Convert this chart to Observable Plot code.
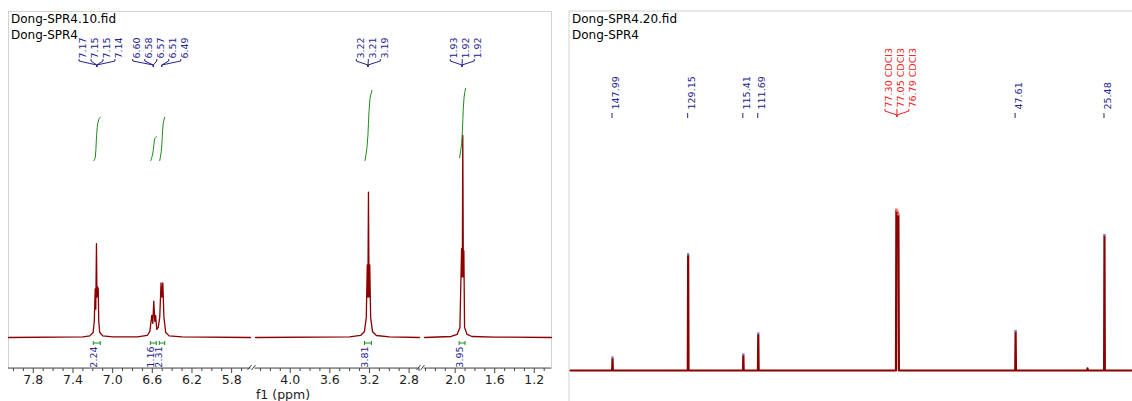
<!DOCTYPE html>
<html><head><meta charset="utf-8">
<script src="https://cdn.jsdelivr.net/npm/d3@7"></script>
<script src="https://cdn.jsdelivr.net/npm/@observablehq/plot@0.6"></script>
<style>
html,body{margin:0;padding:0;background:#fff;overflow:hidden;}
#wrap{position:relative;width:1132px;height:401px;overflow:hidden;font-family:"DejaVu Sans",Verdana,sans-serif;}
#left,#right{position:absolute;top:0;}
#left{left:0;} #right{left:560px;}
.title{position:absolute;font-size:12px;line-height:16px;color:#000;white-space:nowrap;}
</style></head>
<body><div id="wrap">
<div id="left"></div><div id="right"></div>
<div class="title" style="left:11px;top:11px">Dong-SPR4.10.fid<br>Dong-SPR4</div>
<div class="title" style="left:572px;top:11px">Dong-SPR4.20.fid<br>Dong-SPR4</div>
</div>
<script>
// ---------------- 1H spectrum (left) ----------------
// axis segments (broken axis), ppm
const h1SegStart = [8.05, 4.35, 2.31];
const h1SegEnd   = [5.61, 2.695, 1.026];
const h1Ticks = [7.8, 7.4, 7.0, 6.6, 6.2, 5.8, 4.0, 3.6, 3.2, 2.8, 2.0, 1.6, 1.2];
// trace points (ppm, relative intensity)
const h1Ppm = [8.05, 7.30, 7.23, 7.197, 7.185, 7.176, 7.170, 7.163, 7.158, 7.152, 7.145, 7.140, 7.130, 7.10, 7.0,
  6.75, 6.65, 6.625, 6.605, 6.595, 6.585, 6.575, 6.567, 6.555, 6.54, 6.525, 6.512, 6.503, 6.494, 6.483, 6.465, 6.43, 6.3, 5.61,
  4.35, 3.40, 3.29, 3.25, 3.232, 3.222, 3.216, 3.210, 3.204, 3.197, 3.188, 3.17, 3.13, 3.0, 2.695,
  2.31, 2.04, 1.98, 1.952, 1.935, 1.928, 1.923, 1.917, 1.912, 1.905, 1.88, 1.83, 1.6, 1.026];
const h1Int = [0, 0.3, 0.8, 2.5, 8, 24, 14, 46.5, 20, 25, 24, 8, 2.5, 0.8, 0.3,
  0.3, 1, 3, 11, 7, 18, 8, 11, 4, 5, 10, 27, 20, 27, 10, 2.5, 0.8, 0.3, 0,
  0, 0.3, 1, 3, 10, 36, 20, 72, 20, 36, 10, 3, 1, 0.3, 0,
  0, 0.5, 1.5, 5, 44, 30, 100, 30, 43, 5, 1.5, 0.5, 0.2, 0];
// peak labels
const h1PeakLabels = ["7.17","7.15","7.15","7.14","6.60","6.58","6.57","6.51","6.49","3.22","3.21","3.19","1.93","1.92","1.92"];
const h1PeakPpm    = [7.17, 7.15, 7.15, 7.14, 6.60, 6.58, 6.57, 6.51, 6.49, 3.22, 3.21, 3.19, 1.93, 1.92, 1.92];
const h1PeakGroup  = [0,0,0,0, 1,1,1, 2,2, 3,3,3, 4,4,4];
const h1LabelCluster = [0,0,0,0, 1,1,1,1,1, 2,2,2, 3,3,3];
const h1GroupCenter = [7.155, 6.585, 6.50, 3.21, 1.925];
// integrals
const intLabels = ["2.24", "1.16", "2.31", "3.81", "3.95"];
const intFrom = [7.19, 6.615, 6.525, 3.245, 1.955];
const intTo   = [7.12, 6.555, 6.47, 3.175, 1.895];
const intCurvePpm = [
  [7.19, 7.175, 7.165, 7.155, 7.14, 7.125],
  [6.615, 6.60, 6.585, 6.575, 6.56],
  [6.525, 6.51, 6.50, 6.49, 6.475],
  [3.245, 3.225, 3.21, 3.195, 3.175],
  [1.955, 1.935, 1.922, 1.91, 1.895]];
const intCurveLevel = [
  [87.6, 89, 97, 104, 108, 109],
  [87.6, 90, 95, 98.5, 99.5],
  [87.6, 92, 99, 106, 109],
  [87.6, 94, 106, 118, 122.3],
  [89, 96, 108, 119, 123.3]];

// ---------------- 13C spectrum (right) ----------------
const c13Domain = [158.45, 18.5];
const c13Ppm = [158.45, 148.08, 147.99, 147.90, 129.24, 129.15, 129.06, 115.50, 115.41, 115.32, 111.78, 111.69, 111.60,
  77.40, 77.30, 77.17, 77.05, 76.92, 76.79, 76.68, 47.70, 47.61, 47.52, 29.8, 29.7, 29.6, 25.57, 25.48, 25.39, 18.5];
const c13Int = [0, 0, 7.5, 0, 0, 72, 0, 0, 9.4, 0, 0, 22.5, 0,
  0, 100, 96, 99, 96, 97, 0, 0, 24, 0, 0, 1.3, 0, 0, 84, 0, 0];
const c13Labels = ["147.99", "129.15", "115.41", "111.69", "47.61", "25.48"];
const c13LabelPpm = [147.99, 129.15, 115.41, 111.69, 47.61, 25.48];
const c13LabelInt = [7.5, 72, 9.4, 22.5, 24, 84];
const solventLabels = ["77.30 CDCl3", "77.05 CDCl3", "76.79 CDCl3"];
const solventPpm = [77.30, 77.05, 76.79];
const solventInt = [100, 99, 97];

// ---------------- styles ----------------
const NAVY = "#23238e", RED = "#8b0000", GREEN = "#1a8c1a", SOLV = "#f02020", FRAME = "#d2d2d2";
const LABEL_SP = 12;

// helpers
const segOf = p => h1SegStart.findIndex((s, i) => p <= s + 1e-9 && p >= h1SegEnd[i] - 1e-9);
const h1Data = h1Ppm.map((p, i) => ({ppm: p, int: h1Int[i], seg: segOf(p)}));
const intData = intCurvePpm.flatMap((arr, k) => arr.map((p, j) => ({ppm: p, lvl: intCurveLevel[k][j], id: k})));
const h1Minor = h1SegStart.flatMap((s, i) => d3.range(Math.floor(s * 10), Math.ceil(h1SegEnd[i] * 10) - 1, -1).map(v => v / 10))
  .filter(v => !h1Ticks.some(t => Math.abs(t - v) < 1e-6));
const breaks = h1SegEnd.slice(0, 2).map((e, i) => [e, h1SegStart[i + 1]]);

// label layout per cluster
const clusterIdx = d3.group(h1PeakLabels.map((_, i) => i), i => h1LabelCluster[i]);
const h1LabelCenter = h1PeakLabels.map((_, i) => d3.mean(clusterIdx.get(h1LabelCluster[i]), j => h1PeakPpm[j]));
const h1LabelDx = h1PeakLabels.map((_, i) => {
  const members = clusterIdx.get(h1LabelCluster[i]);
  return (members.indexOf(i) - (members.length - 1) / 2) * LABEL_SP;
});

const LT = 11, LB = 368; // frame top/bottom in left plot
const h1LabelMarks = h1PeakLabels.map((t, i) => Plot.text([t], {
  x: () => h1LabelCenter[i], text: d => d, dx: h1LabelDx[i], frameAnchor: "top", dy: 47,
  rotate: -90, textAnchor: "start", fill: NAVY, fontSize: 9.5
}));

function h1Decor(index, scales, values, dim) {
  const x = scales.x;
  const g = d3.create("svg:g").attr("fill", "none");
  h1PeakLabels.forEach((t, i) => {
    const lx = x(h1LabelCenter[i]) + h1LabelDx[i];
    const cx = x(h1GroupCenter[h1PeakGroup[i]]);
    g.append("path").attr("stroke", NAVY).attr("stroke-width", 1)
      .attr("d", `M${lx},${LT + 48}V${LT + 50}L${cx},${LT + 54}V${LT + 56}`);
  });
  intLabels.forEach((t, i) => {
    const a = x(intFrom[i]), b = x(intTo[i]), y = LB - 25;
    g.append("path").attr("stroke", GREEN).attr("stroke-width", 1)
      .attr("d", `M${a},${y - 2}V${y + 2}M${a},${y}H${b}M${b},${y - 2}V${y + 2}`);
  });
  g.append("line").attr("x1", dim.marginLeft).attr("x2", dim.width - dim.marginRight)
    .attr("y1", LB).attr("y2", LB).attr("stroke", "#555");
  breaks.forEach(([a, b]) => {
    const m = (x(a) + x(b)) / 2;
    g.append("rect").attr("x", m - 2).attr("y", LB - 1).attr("width", 4).attr("height", 2).attr("fill", "#fff");
    g.append("path").attr("stroke", "#444").attr("d", `M${m - 5},${LB + 2}L${m - 1},${LB - 3}M${m - 1},${LB + 2}L${m + 3},${LB - 3}`);
  });
  return g.node();
}

const leftPlot = Plot.plot({
  width: 560, height: 401,
  marginLeft: 8, marginRight: 9, marginTop: LT, marginBottom: 401 - LB,
  style: {fontFamily: "DejaVu Sans, Verdana, sans-serif", background: "#fff", color: "#222"},
  x: {type: "linear", domain: [h1SegStart[0], h1SegEnd[0], h1SegStart[1], h1SegEnd[1], h1SegStart[2], h1SegEnd[2]],
      range: [8, 250, 255, 419, 424, 551]},
  y: {domain: [0, 100], range: [337, 135], axis: null},
  marks: [
    Plot.frame({stroke: FRAME}),
    Plot.line(h1Data, {x: "ppm", y: "int", z: "seg", stroke: RED, strokeWidth: 1.3}),
    Plot.line(intData, {x: "ppm", y: "lvl", z: "id", stroke: GREEN, strokeWidth: 1, curve: "monotone-y"}),
    ...h1LabelMarks,
    Plot.text(intLabels, {x: (d, i) => (intFrom[i] + intTo[i]) / 2, text: d => d, frameAnchor: "bottom", dy: -22,
      rotate: -90, textAnchor: "end", fill: NAVY, fontSize: 9.5}),
    Plot.axisX({ticks: h1Ticks, tickFormat: d3.format(".1f"), tickSize: 5, tickPadding: 2, fontSize: 12.5, label: null, stroke: "#444"}),
    Plot.axisX({ticks: h1Minor, tickSize: 3, tickFormat: () => "", label: null, stroke: "#444"}),
    Plot.text(["f1 (ppm)"], {frameAnchor: "bottom", dx: 3, dy: 22, lineAnchor: "top", fontSize: 12.5, fill: "#222"}),
    h1Decor
  ]
});
document.getElementById("left").append(leftPlot);

// ---------------- right plot ----------------
const c13Data = c13Ppm.map((p, i) => ({ppm: p, int: c13Int[i]}));
const RT = 11;
function c13Decor(index, scales, values, dim) {
  const x = scales.x;
  const g = d3.create("svg:g").attr("fill", "none");
  g.append("path").attr("stroke", FRAME).attr("d", `M${dim.marginLeft},${dim.height}V${RT}H${dim.width}`);
  c13LabelPpm.forEach(p => {
    g.append("path").attr("stroke", NAVY).attr("d", `M${x(p)},${RT + 102}V${RT + 107}`);
  });
  const cx = x(d3.mean(solventPpm));
  solventPpm.forEach((p, i) => {
    const lx = cx + (i - 1) * LABEL_SP;
    g.append("path").attr("stroke", SOLV).attr("d", `M${lx},${RT + 98}V${RT + 100}L${cx},${RT + 104}V${RT + 106}`);
  });
  return g.node();
}
const rightPlot = Plot.plot({
  width: 572, height: 401,
  marginLeft: 9, marginRight: 0, marginTop: RT, marginBottom: 0,
  style: {fontFamily: "DejaVu Sans, Verdana, sans-serif", background: "#fff"},
  x: {type: "linear", domain: c13Domain, range: [10, 572], axis: null},
  y: {domain: [0, 100], range: [370, 210], axis: null},
  marks: [
    c13Decor,
    Plot.line(c13Data, {x: "ppm", y: "int", stroke: RED, strokeWidth: 2.2}),
    Plot.dot(c13LabelPpm, {x: d => d, y: (d, i) => c13LabelInt[i], symbol: "square", r: 1.3, dy: -1, fill: "#7878c8", stroke: "none"}),
    Plot.dot(solventPpm, {x: d => d, y: (d, i) => solventInt[i], symbol: "square", r: 1.3, dy: -1, fill: "#ff7070", stroke: "none"}),
    Plot.text(c13Labels, {x: (d, i) => c13LabelPpm[i], text: d => d, frameAnchor: "top", dy: 98,
      rotate: -90, textAnchor: "start", fill: NAVY, fontSize: 9.5}),
    ...solventLabels.map((t, i) => Plot.text([t], {x: () => d3.mean(solventPpm), text: d => d, dx: (i - 1) * LABEL_SP,
      frameAnchor: "top", dy: 96, rotate: -90, textAnchor: "start", fill: SOLV, fontSize: 9.5}))
  ]
});
document.getElementById("right").append(rightPlot);
</script>
</body></html>
